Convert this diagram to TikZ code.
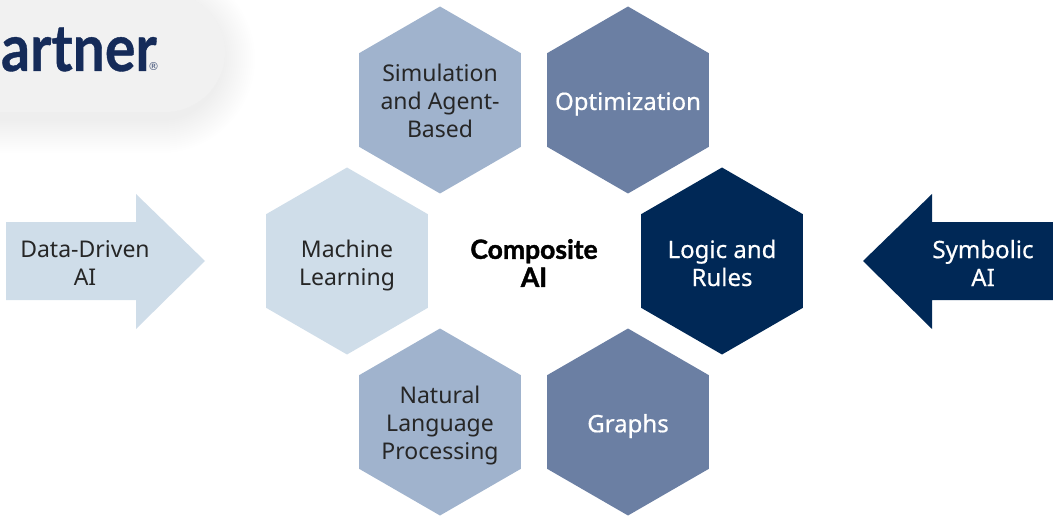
\documentclass[tikz,border=0pt]{standalone}
\usepackage{fontspec}
\setmainfont{Noto Sans}
\newfontfamily\regfont{DejaVu Sans}
\newfontfamily\logofont[FakeBold=0.6]{Lato}
\newfontfamily\medfont[FakeBold=0.5]{Noto Sans}
\newfontfamily\heavyfont[FakeBold=1.5]{Lato}
\usetikzlibrary{shapes.geometric}
\definecolor{cLight}{HTML}{CFDDE9}
\definecolor{cMid}{HTML}{A0B3CD}
\definecolor{cSteel}{HTML}{6B7FA3}
\definecolor{cDark}{HTML}{002856}
\definecolor{cLogo}{HTML}{152B59}
\definecolor{cPill}{HTML}{F1F1F1}
\tikzset{
  hexa/.style={regular polygon,regular polygon sides=6,shape border rotate=30,minimum size=187pt,inner sep=0pt,outer sep=0pt},
  lab/.style={align=center,inner sep=0pt,font=\fontsize{23}{28}\selectfont,text=black!85},
  lightlab/.style={align=center,inner sep=0pt,font=\fontsize{24}{28}\medfont,text=white},
}
\begin{document}
\begin{tikzpicture}[x=1pt,y=-1pt]
\useasboundingbox (0,0) rectangle (1053,516);
\begin{scope}
\clip (0,0) rectangle (1053,516);
\foreach \g in {34,32,...,1}{
  \fill[black,opacity=0.003,rounded corners=60pt+\g pt] (-150,-8-\g+7) rectangle (221+\g,112+\g+7);
}
\fill[cPill,rounded corners=60pt] (-120,-8) rectangle (225,112);
\node[anchor=base east,inner sep=0pt,text=cLogo,font=\fontsize{65}{65}\logofont\bfseries] (logo) at (157,71) {\scalebox{.88}[1]{artner}};
\node[anchor=center,inner sep=0pt,text=cLogo!80,font=\fontsize{11}{11}\regfont] (reg) at (153.5,67) {®};
\end{scope}
\node[hexa,fill=cMid] (sim) at (440,100) {};
\node[hexa,fill=cSteel] (opt) at (628,100) {};
\node[hexa,fill=cLight] (ml) at (347,261) {};
\node[hexa,fill=cDark] (logic) at (722,261) {};
\node[hexa,fill=cMid] (nlp) at (440,422) {};
\node[hexa,fill=cSteel] (graphs) at (628,422) {};
\node[lab] (simT) at (440,101) {Simulation\\and Agent-\\Based};
\node[lightlab] (optT) at (628,104) {Optimization};
\node[lab] (mlT) at (347,266) {Machine\\Learning};
\node[lightlab] (logicT) at (722,263) {Logic and\\Rules};
\node[lab] (nlpT) at (440,426) {Natural\\Language\\Processing};
\node[lightlab] (graphsT) at (628,426) {Graphs};
\node[lab,font=\fontsize{26.5}{28}\heavyfont\bfseries,text=black] (comp) at (534,263) {Composite\\AI};
\fill[cLight] (6,222) -- (136,222) -- (136,194) -- (205,261) -- (136,329) -- (136,300) -- (6,300) -- cycle;
\fill[cDark] (1053,222) -- (932,222) -- (932,194) -- (863,261) -- (932,329) -- (932,300) -- (1053,300) -- cycle;
\node[lab] (dd) at (85,263) {Data-Driven\\AI};
\node[lightlab] (sym) at (983,263) {Symbolic\\AI};
\end{tikzpicture}
\end{document}
